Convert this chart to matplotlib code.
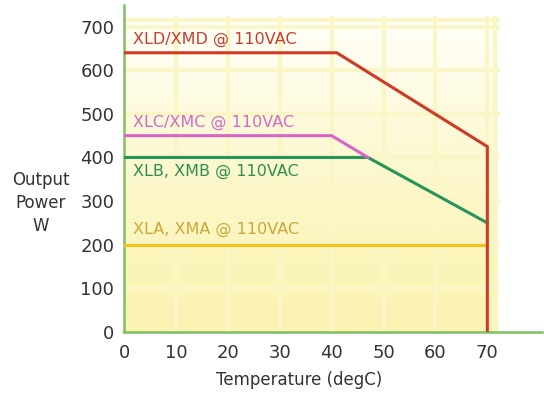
import numpy as np
import matplotlib.pyplot as plt

# Datos de las curvas de potencia (temperatura degC, potencia W)
temp_xld = [0, 41, 70, 70]
power_xld = [640, 640, 425, 0]
temp_xlc = [0, 40, 47]
power_xlc = [450, 450, 400]
temp_xlb = [0, 47, 70]
power_xlb = [400, 400, 250]
temp_xla = [0, 70]
power_xla = [200, 200]

series_labels = ['XLD/XMD @ 110VAC', 'XLC/XMC @ 110VAC',
                 'XLB, XMB @ 110VAC', 'XLA, XMA @ 110VAC']
label_y = [670, 480, 367, 234]

x_ticks = [0, 10, 20, 30, 40, 50, 60, 70]
y_ticks = [0, 100, 200, 300, 400, 500, 600, 700]

line_colors = ['#cf3a26', '#d766c6', '#27955a', '#f2c21e']
text_colors = ['#cc3b2b', '#d46ac4', '#2b8f52', '#c9a83c']
axis_green = '#7fc062'
plt.rcParams['font.family'] = ['DejaVu Sans']

fig = plt.figure(figsize=(5.44, 3.99), dpi=100)
ax = fig.add_axes([0.228, 0.168, 0.768, 0.820])

# Fondo degradado amarillo (más intenso abajo, blanco arriba)
ny = 200
t = np.linspace(0, 1, ny).reshape(-1, 1)
bottom = np.array([0.985, 0.955, 0.70])
top = np.array([1.0, 1.0, 0.98])
grad = bottom + (top - bottom) * t[..., None] ** 1.4
img = np.repeat(grad, 10, axis=1)
ax.imshow(img, origin='lower', extent=[0, 72, 0, 722], aspect='auto', zorder=0)

# Rejilla de fondo
grid_col = '#fbf6c6'
for gx in x_ticks[1:] + [71.5]:
    ax.plot([gx, gx], [0, 720], color=grid_col, lw=2.8, zorder=1)
for gy in y_ticks[1:] + [715]:
    ax.plot([0, 72], [gy, gy], color=grid_col, lw=2.8, zorder=1)

# Curvas
ax.plot(temp_xla, power_xla, color=line_colors[3], lw=2.2, zorder=3)
ax.plot(temp_xlb, power_xlb, color=line_colors[2], lw=2.2, zorder=3)
ax.plot(temp_xlc, power_xlc, color=line_colors[1], lw=2.2, zorder=3)
ax.plot(temp_xld, power_xld, color=line_colors[0], lw=2.2, zorder=4)

for lab, ly, c in zip(series_labels, label_y, text_colors):
    ax.text(1.7, ly, lab, color=c, fontsize=11.5, va='center', ha='left', zorder=5)

ax.set_xlim(0, 80.5)
ax.set_ylim(0, 750)
ax.set_xticks(x_ticks)
ax.set_yticks(y_ticks)
ax.tick_params(length=0, labelsize=13, colors='#333333')
ax.tick_params(axis='x', pad=9)
ax.tick_params(axis='y', pad=7)

for s in ['top', 'right']:
    ax.spines[s].set_visible(False)
for s in ['left', 'bottom']:
    ax.spines[s].set_color(axis_green)
    ax.spines[s].set_linewidth(1.8)

ax.set_xlabel('Temperature (degC)', fontsize=12, color='#333333')
ax.xaxis.set_label_coords(0.42, -0.12)
ax.text(-0.20, 0.394, 'Output\nPower\nW', transform=ax.transAxes, ha='center',
        va='center', fontsize=12, color='#333333', linespacing=1.35)

fig.savefig('out.png', dpi=100)
